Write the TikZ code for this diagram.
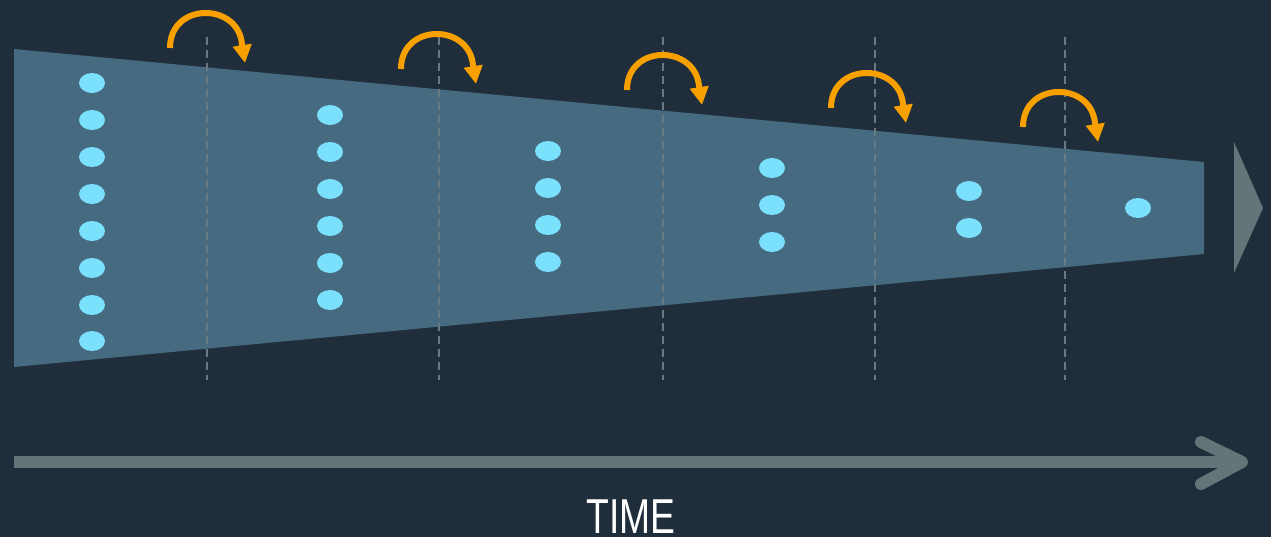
\documentclass[tikz,border=0pt]{standalone}
\usepackage{fontspec}
\setmainfont{Liberation Sans}
\usepackage{xcolor}
\usepackage{tikz}
\usetikzlibrary{arrows.meta,positioning}

\definecolor{bgnavy}{RGB}{31,46,58}
\definecolor{funnelblue}{RGB}{70,106,128}
\definecolor{dotcyan}{RGB}{122,224,252}
\definecolor{hoporange}{RGB}{248,160,0}
\definecolor{axisgray}{RGB}{100,116,120}
\definecolor{dashgray}{RGB}{104,122,130}

\tikzset{
    hoparrow/.style={draw=hoporange,line width=3pt,-{Triangle[length=9pt,width=9pt]}},
    timeaxis/.style={draw=axisgray,line width=6pt},
    slotline/.style={draw=dashgray,line width=1pt,dash pattern=on 4pt off 2.5pt},
}

\begin{document}
\begin{tikzpicture}[x=0.5pt,y=-0.5pt]
    \fill[bgnavy] (0,0) rectangle (1271,537);
    \useasboundingbox (0,0) rectangle (1271,537);

    \fill[funnelblue] (14,49) -- (1204,162) -- (1204,254) -- (14,367) -- cycle;
    \fill[axisgray] (1234,142) -- (1263,208) -- (1234,273) -- cycle;

    \foreach \x in {207,439,663,875,1065}
        \draw[slotline] (\x,37) -- (\x,380);

    \foreach \x/\ys in {92/{83,120,157,194,231,268,305,341},
                        330/{115,152,189,226,263,300},
                        548/{151,188,225,262},
                        772/{168,205,242},
                        969/{191,228},
                        1138/{208}} {
        \foreach \y in \ys
            \fill[dotcyan] (\x,\y) ellipse [x radius=13,y radius=10];
    }

    \foreach \sx/\sy in {170/48,401/69,627/90,831/108,1023/127}
        \draw[hoparrow,shift={(\sx,\sy)}] (0,0) .. controls (0,-46) and (68,-46) .. (72,-4) -- (75,15);

    \draw[timeaxis] (14,462) -- (1238,462);
    \draw[timeaxis,line cap=round,line join=round] (1201,442) -- (1242,462) -- (1201,484);

    \node[anchor=base,text=white,font=\fontsize{24.5}{29}\selectfont,inner sep=0pt] (timelabel) at (631,533) {\scalebox{0.76}[1]{TIME}};
\end{tikzpicture}
\end{document}
